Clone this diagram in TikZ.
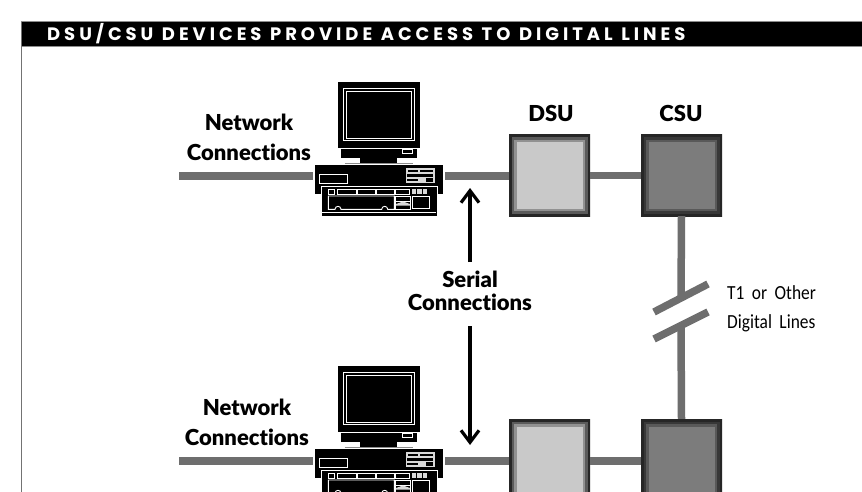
\documentclass[tikz,border=0pt]{standalone}
\usepackage{fontspec}
\setmainfont{Lato}
\newfontfamily\titlefont[LetterSpace=22,WordSpace=1.1]{Poppins Bold}
\newfontfamily\headfont[Ligatures=NoCommon]{Lato Black}
\newfontfamily\smallfont[WordSpace=1.9,FakeStretch=0.87]{Carlito}
\usetikzlibrary{arrows.meta}
\definecolor{wire}{HTML}{6E6E6E}
\definecolor{dsufill}{HTML}{C9C9C9}
\definecolor{csufill}{HTML}{7C7C7C}
\tikzset{
  x=1pt,y=-1pt,
  wirepath/.style={draw=wire,line width=7.5pt},
  arrowline/.style={draw=black,line width=3.2pt,-{Straight Barb[length=12pt,width=18pt,line width=3.2pt]}},
  hair/.style={draw=white,line width=0.9pt},
  heading/.style={font=\headfont\fontsize{22}{30}\selectfont,align=center,text=black,inner sep=0pt},
  unitbox/.style={
    rectangle,minimum width=81pt,minimum height=81pt,inner sep=0pt,fill=#1,
    path picture={
      \fill[#1!45!black] (path picture bounding box.north west) rectangle (path picture bounding box.south east);
      \fill[#1!72!black] ([shift={(5,5)}]path picture bounding box.north west) rectangle ([shift={(-5,-5)}]path picture bounding box.south east);
      \fill[#1] ([shift={(7.5,7.5)}]path picture bounding box.north west) rectangle ([shift={(-7.5,-7.5)}]path picture bounding box.south east);
      \draw[black!85,line width=5pt] (path picture bounding box.north west) rectangle (path picture bounding box.south east);
    }},
  computer/.pic={
    % monitor
    \fill[black] (337.5,82) rectangle (420,148);
    \draw[hair] (343.5,88.5) rectangle (414,140.5);
    \draw[hair] (346.5,91.5) rectangle (411.5,138.5);
    % monitor foot
    \fill[black] (341,149) rectangle (417,158);
    \draw[hair,line width=0.7pt] (402.5,149.5) rectangle (412,153);
    \fill[black] (360,158) rectangle (397,162.5);
    \draw[draw=black!45,line width=0.9pt] (344.5,163.7) -- (413,163.7);
    % system unit
    \node[rectangle,fill=black,minimum width=128pt,minimum height=29pt,inner sep=0pt,outer sep=2pt] (desk) at (379,179.5) {};
    \draw[hair] (319.5,174) rectangle (347.5,183.3);
    \fill[white!85!black] (405.7,167.5) rectangle (435,185);
    \fill[black] (408,170) rectangle (418,172);
    \fill[black] (420,170) rectangle (433,172);
    \fill[black] (407,174) rectangle (433,176.5);
    \fill[black] (407,179) rectangle (418,181);
    \fill[black] (426,178) rectangle (433,182);
    \fill[black] (405.7,183) rectangle (435,185);
    % front panel
    \fill[black] (320.7,186) rectangle (437.5,216);
    \draw[hair] (321,216) -- (321,186.3) -- (437.3,186.3) -- (437.3,216);
    \draw[hair] (322,212.7) -- (436,212.7);
    \draw[hair,line width=0.7pt] (328.7,189.2) rectangle (334.2,194);
    \draw[hair,line width=0.7pt] (337.7,189.2) rectangle (356,194);
    \draw[hair,line width=0.7pt] (357.3,189.2) rectangle (375,194);
    \draw[hair,line width=0.7pt] (376.3,189.2) rectangle (394,194);
    \draw[hair,line width=0.7pt] (395.3,189.2) rectangle (409,194);
    \fill[white!85!black] (411.7,189.2) rectangle (416,194);
    \fill[white!85!black] (417.3,189.2) rectangle (421.7,194);
    \fill[white!85!black] (422.7,189.2) rectangle (427.3,194);
    % keyboard recess
    \draw[hair] (328.3,196) -- (328.3,209.3) -- (335,209.3) arc[start angle=180,end angle=0,radius=3pt] -- (381.7,209.3) arc[start angle=180,end angle=0,radius=3pt] -- (394.3,209.3) -- (394.3,196) -- cycle;
    \draw[hair] (395.3,196) rectangle (410,209.3);
    \draw[hair] (395.3,201) -- (410,201);
    \fill[white!85!black] (396,204) -- (403,201.5) -- (410,204) -- (410,205.5) -- (396,205.5) -- cycle;
    \draw[hair] (412.3,196) rectangle (429,208.3);
  }
}
\begin{document}
\begin{tikzpicture}
\useasboundingbox (0,0) rectangle (862,492);
\clip (0,0) rectangle (862,492);
\fill[white] (0,0) rectangle (862,492);

% page frame and title band
\fill[black] (21,22) rectangle (862,46);
\draw[black!45,line width=1pt] (21,22) -- (862,22);
\draw[black!45,line width=1.4pt] (21,46.5) -- (862,46.5);
\draw[black!55,line width=1.4pt] (21.5,22) -- (21.5,492);
\node[anchor=base west,inner sep=0pt,text=white,font=\titlefont\fontsize{18}{18}\selectfont] (title) at (47,40.8) {DSU/CSU DEVICES PROVIDE ACCESS TO DIGITAL LINES};

% computers
\pic (upc) at (0,0) {computer};
\pic (lpc) at (0,284) {computer};

% line units
\node[unitbox=dsufill] (dsuA) at (549.5,175.5) {};
\node[unitbox=csufill] (csuA) at (681.5,175.5) {};
\node[unitbox=dsufill] (dsuB) at (549.5,459.5) {};
\node[unitbox=csufill] (csuB) at (681.5,459.5) {};

% free ends of the network cables and of the broken digital line
\coordinate (netA) at (179,176);
\coordinate (netB) at (179,461);
\coordinate (breakTop) at (681,298);
\coordinate (breakBot) at (681,326);
\coordinate (slashAa) at (654,312);
\coordinate (slashAb) at (708,284);
\coordinate (slashBa) at (654,339);
\coordinate (slashBb) at (708,312);
% ends of the serial connection arrows
\coordinate (upTail) at (470,262);
\coordinate (upTip) at (470,188);
\coordinate (downTail) at (470,326);
\coordinate (downTip) at (470,445);

\draw[wirepath] (netA) -- (netA -| upcdesk.west);
\draw[wirepath] (upcdesk.east |- netA) -- (netA -| dsuA.west);
\draw[wirepath] (dsuA.east) -- (csuA.west);
\draw[wirepath] (netB) -- (netB -| lpcdesk.west);
\draw[wirepath] (lpcdesk.east |- netB) -- (netB -| dsuB.west);
\draw[wirepath] (dsuB.east |- netB) -- (csuB.west |- netB);
\draw[wirepath] (csuA.south) -- (breakTop);
\draw[wirepath] (breakBot) -- (csuB.north);
\draw[wirepath] (slashAa) -- (slashAb);
\draw[wirepath] (slashBa) -- (slashBb);

% labels
\node[heading] (netlabelA) at (249,137.5) {Network\\Connections};
\node[heading] (netlabelB) at (247,422.5) {Network\\Connections};
\node[heading] (dsulabelA) at (551,113) {DSU};
\node[heading] (csulabelA) at (681,113) {CSU};
\node[heading,font=\headfont\fontsize{22}{23}\selectfont] (seriallabel) at (470,291) {Serial\\Connections};
\node[anchor=west,align=left,inner sep=0pt,font=\smallfont\fontsize{20}{29}\selectfont] (digilabel) at (727,308.5) {T1 or Other\\Digital Lines};

% serial connection arrows
\draw[arrowline] (upTail) -- (upTip);
\draw[arrowline] (downTail) -- (downTip);
\end{tikzpicture}
\end{document}
